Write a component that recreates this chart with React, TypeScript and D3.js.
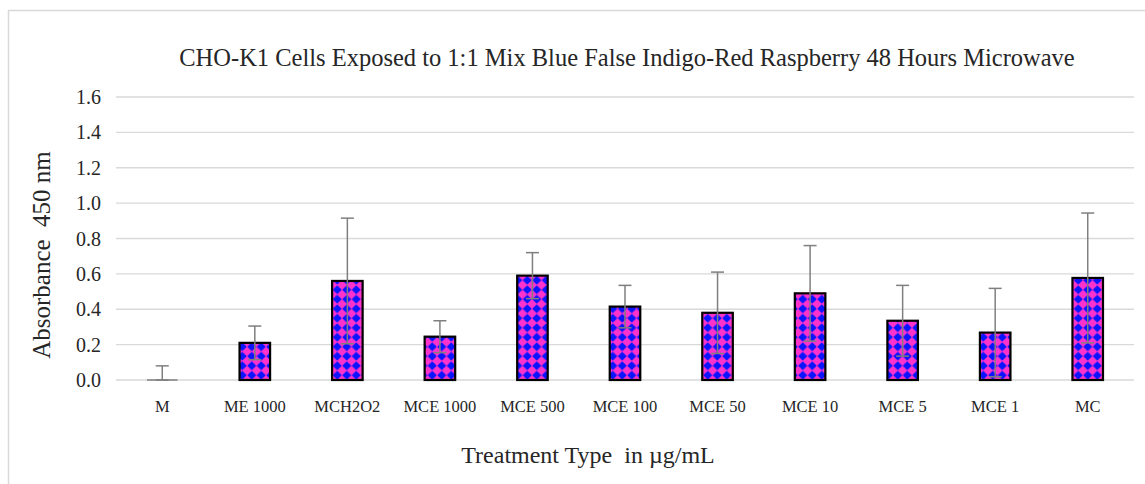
import React from "react";
import * as d3 from "d3";

const categories = ["M", "ME 1000", "MCH2O2", "MCE 1000", "MCE 500", "MCE 100", "MCE 50", "MCE 10", "MCE 5", "MCE 1", "MC"];
const means = [0, 0.21, 0.56, 0.245, 0.59, 0.415, 0.38, 0.49, 0.335, 0.268, 0.577];
const errors = [0.08, 0.095, 0.355, 0.09, 0.13, 0.12, 0.23, 0.27, 0.2, 0.25, 0.367];
const yTicks = [0, 0.2, 0.4, 0.6, 0.8, 1.0, 1.2, 1.4, 1.6];

const title = "CHO-K1 Cells Exposed to 1:1 Mix Blue False Indigo-Red Raspberry 48 Hours Microwave";
const yTitle = "Absorbance  450 nm";
const xTitle = "Treatment Type  in µg/mL";

const W = 1145, H = 484;
const left = 116, right = 1134, top = 97, bottom = 380;
const serif = "'Liberation Serif', 'Times New Roman', serif";

export default function App() {
  const x = d3.scaleBand().domain(categories).range([left, right]).paddingInner(0.67).paddingOuter(0.335);
  const y = d3.scaleLinear().domain([0, 1.6]).range([bottom, top]);
  const bw = x.bandwidth();
  const p = 9.5;
  const h = p * 0.48;
  const c = p / 2;
  return (
    <svg width={W} height={H} style={{ position: "absolute", left: 0, top: 0, background: "#fff" }}>
      <defs>
        <pattern id="checker" width={p} height={p} patternUnits="userSpaceOnUse">
          <rect width={p} height={p} fill="#ff33cc" />
          <path d={`M${c},${c - h} L${c + h},${c} L${c},${c + h} L${c - h},${c} Z`} fill="#0a14ff" />
        </pattern>
      </defs>
      <rect x={8.5} y={10.5} width={W + 10} height={H + 10} fill="none" stroke="#d9d9d9" strokeWidth={1.5} />
      <text x={627} y={66} textAnchor="middle" fontFamily={serif} fontSize={24.5} fill="#262626">{title}</text>
      {yTicks.map((t) => (
        <g key={t}>
          <line x1={left} x2={right} y1={y(t)} y2={y(t)} stroke="#d9d9d9" strokeWidth={1.3} />
          <text x={101} y={y(t)} dy="0.35em" textAnchor="end" fontFamily={serif} fontSize={20} fill="#262626">{t.toFixed(1)}</text>
        </g>
      ))}
      {categories.map((cat, i) => {
        const bx = x(cat)!;
        const cx = bx + bw / 2;
        const v = means[i];
        const e = errors[i];
        const lo = y(Math.max(0, v - e));
        const hi = y(v + e);
        return (
          <g key={cat}>
            {v > 0 ? (
              <rect x={bx} y={y(v)} width={bw} height={y(0) - y(v)} fill="url(#checker)" stroke="#000" strokeWidth={2.2} />
            ) : (
              <line x1={bx} x2={bx + bw} y1={y(0)} y2={y(0)} stroke="#808080" strokeWidth={1.5} />
            )}
            <line x1={cx} x2={cx} y1={hi} y2={lo} stroke="#7f7f7f" strokeWidth={1.5} />
            <line x1={cx - 6.5} x2={cx + 6.5} y1={hi} y2={hi} stroke="#7f7f7f" strokeWidth={1.5} />
            <line x1={cx - 6.5} x2={cx + 6.5} y1={lo} y2={lo} stroke="#7f7f7f" strokeWidth={1.5} />
            <text x={cx} y={412} textAnchor="middle" fontFamily={serif} fontSize={16.5} fill="#262626">{cat}</text>
          </g>
        );
      })}
      <text transform={`translate(50,255) rotate(-90)`} textAnchor="middle" fontFamily={serif} fontSize={25} fill="#262626" style={{ whiteSpace: "pre" }}>{yTitle}</text>
      <text x={588} y={463} textAnchor="middle" fontFamily={serif} fontSize={24} fill="#262626" style={{ whiteSpace: "pre" }}>{xTitle}</text>
    </svg>
  );
}
